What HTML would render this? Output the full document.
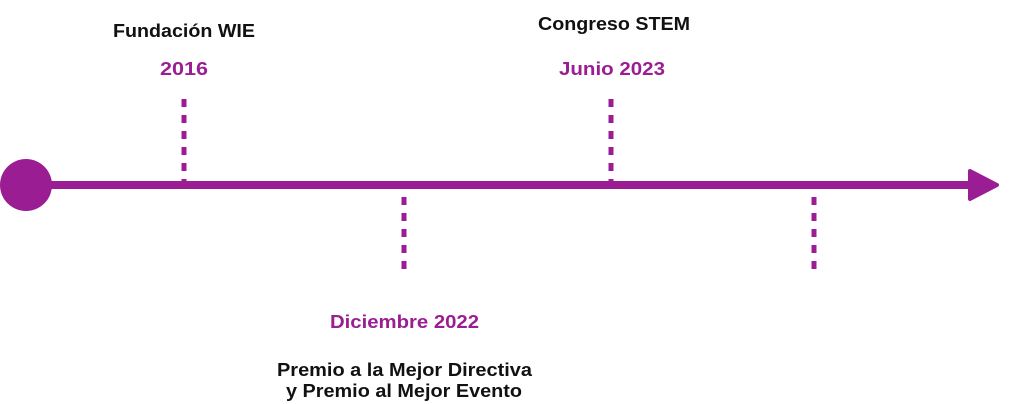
<!DOCTYPE html>
<html><head><meta charset="utf-8"><style>html,body{margin:0;padding:0;background:#fff;}svg{display:block}</style></head>
<body>
<svg width="1024" height="404" viewBox="0 0 1024 404" xmlns="http://www.w3.org/2000/svg" font-family="Liberation Sans, sans-serif" font-weight="bold" font-size="18">
<circle cx="26" cy="185" r="26" fill="#9b1d93"/>
<rect x="26" y="181" width="950" height="8" fill="#9b1d93"/>
<path d="M970 171 L997 185 L970 199 Z" fill="#9b1d93" stroke="#9b1d93" stroke-width="4" stroke-linejoin="round"/>
<g stroke="#9b1d93" stroke-width="5" stroke-dasharray="8 8">
<line x1="184" y1="99" x2="184" y2="182"/>
<line x1="611" y1="99" x2="611" y2="182"/>
<line x1="404" y1="197" x2="404" y2="270"/>
<line x1="814" y1="197" x2="814" y2="270"/>
</g>
<g fill="#111">
<text x="113" y="37" textLength="142" lengthAdjust="spacingAndGlyphs">Fundación WIE</text>
<text x="538" y="30" textLength="152" lengthAdjust="spacingAndGlyphs">Congreso STEM</text>
<text x="277" y="376" textLength="255" lengthAdjust="spacingAndGlyphs">Premio a la Mejor Directiva</text>
<text x="286" y="397" textLength="236" lengthAdjust="spacingAndGlyphs">y Premio al Mejor Evento</text>
</g>
<g fill="#9b1d93">
<text x="160" y="75" textLength="48" lengthAdjust="spacingAndGlyphs">2016</text>
<text x="559" y="75" textLength="106" lengthAdjust="spacingAndGlyphs">Junio 2023</text>
<text x="330" y="328" textLength="149" lengthAdjust="spacingAndGlyphs">Diciembre 2022</text>
</g>
</svg>
</body></html>
